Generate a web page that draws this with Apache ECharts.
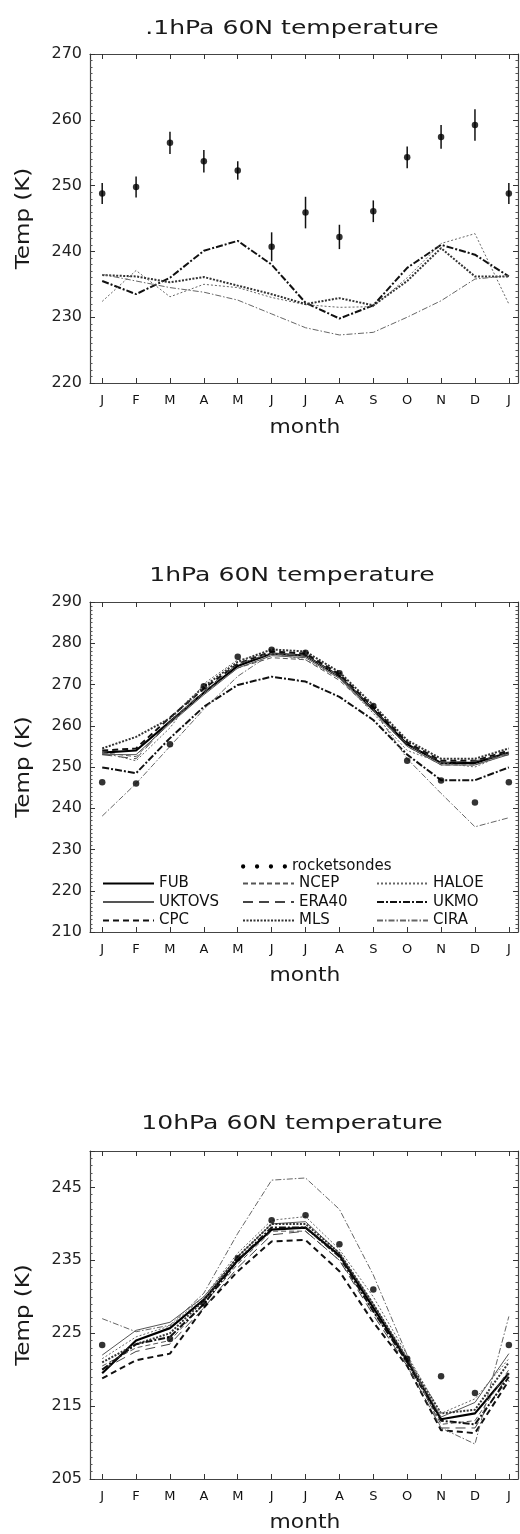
<!DOCTYPE html>
<html><head><meta charset="utf-8">
<script src="https://cdn.jsdelivr.net/npm/echarts@6/dist/echarts.min.js"></script>
<style>html,body{margin:0;padding:0;background:#fff}#c{width:520px;height:1534px}</style>
</head><body><div id="c"></div>
<script>
// ---------- DATA ----------
const monthLabels = ['J','F','M','A','M','J','J','A','S','O','N','D','J'];
const monthIdx = [0,1,2,3,4,5,6,7,8,9,10,11,12];
const panelTitles = ['.1hPa 60N temperature', '1hPa 60N temperature', '10hPa 60N temperature'];
const yTicks0 = [220, 230, 240, 250, 260, 270];
const yTicks1 = [210, 220, 230, 240, 250, 260, 270, 280, 290];
const yTicks2 = [205, 215, 225, 235, 245];

// panel 1: 0.1 hPa
const p1_rocket    = [248.8, 249.8, 256.5, 253.7, 252.3, 240.7, 245.9, 242.2, 246.1, 254.3, 257.4, 259.2, 248.8];
const p1_rocketErr = [1.6, 1.6, 1.7, 1.7, 1.4, 2.2, 2.4, 1.85, 1.65, 1.65, 1.8, 2.4, 1.6];
const p1_UKMO  = [235.5, 233.5, 236.0, 240.1, 241.6, 238.0, 232.2, 229.8, 231.8, 237.5, 241.0, 239.5, 236.2];
const p1_HALOE = [232.4, 237.1, 233.1, 235.0, 234.5, 233.0, 231.9, 231.5, 231.6, 236.0, 241.2, 242.7, 232.0];
const p1_MLS   = [236.4, 236.2, 235.3, 236.1, 234.8, 233.5, 232.0, 232.9, 231.8, 235.5, 240.5, 236.2, 236.2];
const p1_CIRA  = [236.5, 235.5, 234.5, 233.8, 232.6, 230.5, 228.4, 227.3, 227.7, 230.0, 232.5, 235.8, 236.3];

// panel 2: 1 hPa
const p2_rocket = [246.3, 246.0, 255.5, 269.6, 276.7, 278.4, 277.7, 272.7, 264.8, 251.5, 246.7, 241.4, 246.3];
const p2_FUB    = [253.5, 254.0, 261.0, 268.0, 274.5, 277.5, 277.0, 272.0, 264.0, 255.5, 251.0, 251.0, 253.5];
const p2_UKTOVS = [253.0, 253.0, 260.5, 267.5, 274.0, 277.0, 276.5, 271.5, 263.5, 255.0, 250.5, 250.5, 253.0];
const p2_CPC    = [254.0, 254.5, 262.0, 269.0, 275.0, 278.0, 277.5, 272.5, 264.5, 256.0, 251.5, 251.5, 254.0];
const p2_NCEP   = [253.5, 252.5, 261.0, 268.0, 274.0, 276.5, 276.0, 271.0, 263.5, 255.0, 250.5, 250.5, 253.5];
const p2_ERA40  = [253.0, 252.0, 261.0, 268.5, 275.0, 277.5, 277.0, 272.0, 264.0, 255.5, 251.0, 251.5, 253.0];
const p2_MLS    = [254.5, 257.3, 261.8, 269.5, 275.5, 278.5, 278.0, 273.0, 265.0, 256.5, 252.0, 252.0, 254.5];
const p2_HALOE  = [253.5, 251.5, 259.5, 270.2, 276.0, 277.5, 276.0, 271.5, 263.0, 254.0, 251.0, 250.0, 253.5];
const p2_UKMO   = [249.9, 248.5, 257.0, 264.6, 269.9, 271.9, 270.7, 267.0, 261.4, 253.0, 246.8, 246.8, 249.9];
const p2_CIRA   = [238.1, 246.0, 255.0, 264.0, 272.0, 277.5, 277.0, 272.0, 264.0, 252.0, 243.6, 235.5, 237.7];

// panel 3: 10 hPa
const p3_rocket = [223.4, null, 224.2, 229.1, 235.3, 240.5, 241.2, 237.2, 231.0, 221.5, 219.1, 216.8, 223.4];
const p3_FUB    = [219.5, 224.0, 225.7, 229.6, 235.0, 239.2, 239.5, 235.7, 228.5, 221.3, 213.2, 214.0, 219.5];
const p3_UKTOVS = [222.0, 225.4, 226.5, 230.0, 235.5, 240.0, 240.3, 236.0, 229.0, 221.5, 213.5, 215.5, 222.2];
const p3_CPC    = [218.8, 221.3, 222.2, 228.5, 233.5, 237.6, 237.8, 233.5, 226.5, 220.5, 211.7, 211.3, 218.5];
const p3_NCEP   = [220.5, 223.0, 224.0, 229.0, 234.5, 239.0, 239.0, 235.0, 228.0, 221.0, 212.5, 213.0, 220.0];
const p3_ERA40  = [220.0, 222.5, 223.5, 228.5, 234.0, 238.5, 239.0, 235.0, 227.5, 220.5, 212.0, 212.0, 219.5];
const p3_MLS    = [221.0, 223.5, 225.0, 229.5, 235.5, 240.0, 240.0, 236.0, 229.0, 221.5, 214.0, 214.5, 221.0];
const p3_HALOE  = [221.5, 224.5, 226.0, 230.0, 236.0, 240.5, 241.0, 236.5, 230.0, 222.0, 214.0, 216.0, 221.5];
const p3_UKMO   = [220.0, 223.5, 224.5, 229.0, 235.0, 239.5, 239.5, 235.5, 228.0, 221.0, 213.0, 212.5, 219.0];
const p3_CIRA   = [227.0, 225.2, 226.1, 230.5, 238.7, 246.0, 246.3, 242.0, 233.0, 222.0, 212.0, 209.8, 227.3];

// ---------- STYLES ----------
const styles = {
  FUB:    {color:'#000', width:2.2, type:'solid'},
  UKTOVS: {color:'#555', width:1, type:'solid'},
  CPC:    {color:'#111', width:2, type:[6,4]},
  NCEP:   {color:'#555', width:1, type:[5,3]},
  ERA40:  {color:'#444', width:1, type:[10,6]},
  MLS:    {color:'#333', width:2, type:[2,1.5]},
  HALOE:  {color:'#666', width:1, type:[2,2]},
  UKMO:   {color:'#111', width:2, type:[7,2,2,2]},
  CIRA:   {color:'#666', width:1, type:[6,2,1.5,2]}
};

const pairs = arr => monthIdx.map((m, i) => [m, arr[i]]);

function lineSeries(name, arr, g) {
  const s = styles[name];
  return {
    type:'line', name, data: pairs(arr), xAxisIndex: 2*g, yAxisIndex: 2*g,
    symbol:'none', silent:true, animation:false,
    lineStyle:{color:s.color, width:s.width, type:s.type},
    itemStyle:{color:s.color}, z:3
  };
}
function rocketSeries(arr, g) {
  return {
    type:'scatter', name:'rocketsondes', data: pairs(arr).filter(p => p[1] != null),
    xAxisIndex: 2*g, yAxisIndex: 2*g, symbol:'circle', symbolSize:6.5,
    itemStyle:{color:'#000'}, silent:true, animation:false, z:5
  };
}

const grids = [
  {left:90, top:54, width:428, height:329},
  {left:90, top:602, width:428, height:330},
  {left:90, top:1151, width:428, height:328}
];
const yRanges = [[220,270],[210,290],[205,250]];
const frameColor = '#444';
const FONT = '"DejaVu Sans", sans-serif';

const xAxes = [], yAxes = [];
grids.forEach((g, i) => {
  const common = {
    type:'value', gridIndex:i, min:-0.36, max:12.27, minInterval:1, maxInterval:1,
    axisLine:{show:true, onZero:false, lineStyle:{color:frameColor, width:1.2}},
    axisTick:{show:true, inside:true, length:5, lineStyle:{color:'#333', width:1}},
    splitLine:{show:false}
  };
  xAxes.push(Object.assign({}, common, {
    position:'bottom',
    axisLabel:{show:true, margin:11, fontSize:13, color:'#111', fontFamily:FONT,
      showMinLabel:false, showMaxLabel:false,
      formatter: v => { const r = Math.round(v); return Math.abs(v - r) < 1e-6 ? monthLabels[r] : ''; }}
  }));
  xAxes.push(Object.assign({}, common, {position:'top', axisLabel:{show:false}}));
  const yc = {
    type:'value', gridIndex:i, min:yRanges[i][0], max:yRanges[i][1], interval:10,
    axisLine:{show:true, onZero:false, lineStyle:{color:frameColor, width:1.2}},
    axisTick:{show:true, inside:true, length:5, lineStyle:{color:'#333', width:1}},
    minorTick:{show:true, splitNumber:10, length:2.5, lineStyle:{color:'#555', width:1}},
    splitLine:{show:false}
  };
  yAxes.push(Object.assign({}, yc, {
    position:'left',
    axisLabel:{show:true, margin:8, fontSize:16, color:'#222', fontFamily:FONT,
      showMaxLabel: i !== 2}
  }));
  yAxes.push(Object.assign({}, yc, {position:'right', axisLabel:{show:false}}));
});

const series = [];
// panel 1
const p1 = {UKMO:p1_UKMO, HALOE:p1_HALOE, MLS:p1_MLS, CIRA:p1_CIRA};
Object.keys(p1).forEach(n => series.push(lineSeries(n, p1[n], 0)));
series.push({
  type:'custom', name:'rocketsondes', xAxisIndex:0, yAxisIndex:0, silent:true, animation:false, z:4,
  data: monthIdx.map((m, i) => [m, p1_rocket[i] - p1_rocketErr[i], p1_rocket[i] + p1_rocketErr[i]]),
  encode:{x:0, y:[1,2]},
  renderItem: (params, api) => {
    const a = api.coord([api.value(0), api.value(1)]);
    const b = api.coord([api.value(0), api.value(2)]);
    return {type:'line', shape:{x1:a[0], y1:a[1], x2:b[0], y2:b[1]}, style:{stroke:'#111', lineWidth:1.5}};
  }
});
series.push(rocketSeries(p1_rocket, 0));
// panel 2
const p2 = {FUB:p2_FUB, UKTOVS:p2_UKTOVS, CPC:p2_CPC, NCEP:p2_NCEP, ERA40:p2_ERA40, MLS:p2_MLS, HALOE:p2_HALOE, UKMO:p2_UKMO, CIRA:p2_CIRA};
Object.keys(p2).forEach(n => series.push(lineSeries(n, p2[n], 1)));
series.push(rocketSeries(p2_rocket, 1));
// panel 3
const p3 = {FUB:p3_FUB, UKTOVS:p3_UKTOVS, CPC:p3_CPC, NCEP:p3_NCEP, ERA40:p3_ERA40, MLS:p3_MLS, HALOE:p3_HALOE, UKMO:p3_UKMO, CIRA:p3_CIRA};
Object.keys(p3).forEach(n => series.push(lineSeries(n, p3[n], 2)));
series.push(rocketSeries(p3_rocket, 2));

// legend (panel 2)
const legText = {fontSize:15, color:'#111', fontFamily:FONT, padding:0};
const legCommon = {orient:'vertical', itemWidth:51, itemHeight:12, itemGap:3.5, padding:0,
  selectedMode:false, textStyle:legText, inactiveColor:'#000',
  itemStyle:{opacity:0, borderWidth:0}};
const dotsIcon = 'path://M2,3a2,2 0 1,0 4,0a2,2 0 1,0 -4,0z M15,3a2,2 0 1,0 4,0a2,2 0 1,0 -4,0z M28,3a2,2 0 1,0 4,0a2,2 0 1,0 -4,0z M41,3a2,2 0 1,0 4,0a2,2 0 1,0 -4,0z';
const legends = [
  Object.assign({}, legCommon, {left:102, top:876, data:['FUB','UKTOVS','CPC']}),
  Object.assign({}, legCommon, {left:242, top:876, data:['NCEP','ERA40','MLS']}),
  Object.assign({}, legCommon, {left:376, top:876, data:['HALOE','UKMO','CIRA']}),
  Object.assign({}, legCommon, {left:241, top:859, itemWidth:46, itemHeight:6,
    itemStyle:{opacity:1},
    data:[{name:'rocketsondes', icon:dotsIcon, itemStyle:{color:'#000', opacity:1}}]})
];

// texts
const graphics = [];
const titleY = [29, 576, 1124];
const monthY = [428, 976, 1523];
grids.forEach((g, i) => {
  graphics.push({type:'text', x:292, y:titleY[i], scaleX:1.32, silent:true,
    style:{text:panelTitles[i], font:'19px "DejaVu Sans"', fill:'#1a1a1a', textAlign:'center', textVerticalAlign:'middle'}});
  graphics.push({type:'text', x:305, y:monthY[i], scaleX:1.15, silent:true,
    style:{text:'month', font:'19px "DejaVu Sans"', fill:'#1a1a1a', textAlign:'center', textVerticalAlign:'middle'}});
  graphics.push({type:'text', x:24, y:g.top + g.height/2, rotation:Math.PI/2, scaleX:1.15, silent:true,
    style:{text:'Temp (K)', font:'20px "DejaVu Sans"', fill:'#1a1a1a', textAlign:'center', textVerticalAlign:'middle'}});
});

const chart = echarts.init(document.getElementById('c'), null, {renderer:'canvas'});
chart.setOption({
  backgroundColor:'#fff',
  animation:false,
  grid: grids,
  xAxis: xAxes,
  yAxis: yAxes,
  legend: legends,
  graphic: graphics,
  series
});
</script>
</body></html>
